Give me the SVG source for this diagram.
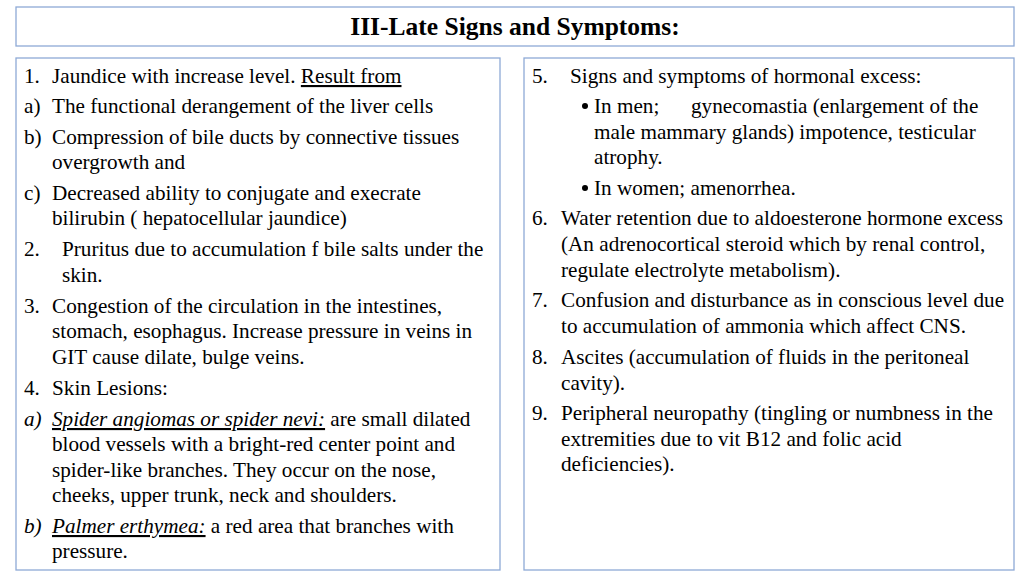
<svg xmlns="http://www.w3.org/2000/svg" width="1024" height="576" viewBox="0 0 1024 576">
<style>
.box{fill:#fff;stroke:#8eaad6;stroke-width:1.3}
text{font-family:"Liberation Serif",serif;font-size:21.2px;fill:#000}
.t{font-size:25.5px;font-weight:bold}
.i{font-style:italic;text-decoration:underline}
</style>
<rect width="1024" height="576" fill="#fff"/>
<g id="title"><rect class="box" x="16" y="7" width="998" height="39"/><text class="t" x="515" y="35" text-anchor="middle">III-Late Signs and Symptoms:</text></g>
<g id="left"><rect class="box" x="16" y="58" width="484" height="512"/>
<text x="24" y="83">1.</text><text x="52" y="83">Jaundice with increase level. <tspan text-decoration="underline">Result from</tspan></text>
<text x="24" y="113">a)</text><text x="52" y="113">The functional derangement of the liver cells</text>
<text x="24" y="144">b)</text><text x="52" y="144">Compression of bile ducts by connective tissues</text>
<text x="52" y="169">overgrowth and</text>
<text x="24" y="200">c)</text><text x="52" y="200">Decreased ability to conjugate and execrate</text>
<text x="52" y="225">bilirubin ( hepatocellular jaundice)</text>
<text x="24" y="256">2.</text><text x="62" y="256">Pruritus due to accumulation f bile salts under the</text>
<text x="62" y="282">skin.</text>
<text x="24" y="313">3.</text><text x="52" y="313">Congestion of the circulation in the intestines,</text>
<text x="52" y="338">stomach, esophagus. Increase pressure in veins in</text>
<text x="52" y="364">GIT cause dilate, bulge veins.</text>
<text x="24" y="395">4.</text><text x="52" y="395">Skin Lesions:</text>
<text x="24" y="426" font-style="italic">a)</text><text x="52" y="426"><tspan class="i">Spider angiomas or spider nevi:</tspan> are small dilated</text>
<text x="52" y="451">blood vessels with a bright-red center point and</text>
<text x="52" y="477">spider-like branches. They occur on the nose,</text>
<text x="52" y="502">cheeks, upper trunk, neck and shoulders.</text>
<text x="24" y="533" font-style="italic">b)</text><text x="52" y="533"><tspan class="i">Palmer erthymea:</tspan> a red area that branches with</text>
<text x="52" y="558">pressure.</text>
</g>
<g id="right"><rect class="box" x="524" y="58" width="490" height="512"/>
<text x="532" y="83">5.</text><text x="570" y="83">Signs and symptoms of hormonal excess:</text>
<circle cx="585" cy="106" r="3"/><text x="594" y="113">In men;<tspan x="691">gynecomastia (enlargement of the</tspan></text>
<text x="594" y="139">male mammary glands) impotence, testicular</text>
<text x="594" y="164">atrophy.</text>
<circle cx="585" cy="188" r="3"/><text x="594" y="195">In women; amenorrhea.</text>
<text x="532" y="225">6.</text><text x="561" y="225">Water retention due to aldoesterone hormone excess</text>
<text x="561" y="251">(An adrenocortical steroid which by renal control,</text>
<text x="561" y="277">regulate electrolyte metabolism).</text>
<text x="532" y="307">7.</text><text x="561" y="307">Confusion and disturbance as in conscious level due</text>
<text x="561" y="333">to accumulation of ammonia which affect CNS.</text>
<text x="532" y="364">8.</text><text x="561" y="364">Ascites (accumulation of fluids in the peritoneal</text>
<text x="561" y="390">cavity).</text>
<text x="532" y="420">9.</text><text x="561" y="420">Peripheral neuropathy (tingling or numbness in the</text>
<text x="561" y="446">extremities due to vit B12 and folic acid</text>
<text x="561" y="471">deficiencies).</text>
</g>
<g id="connectors"/>
</svg>
